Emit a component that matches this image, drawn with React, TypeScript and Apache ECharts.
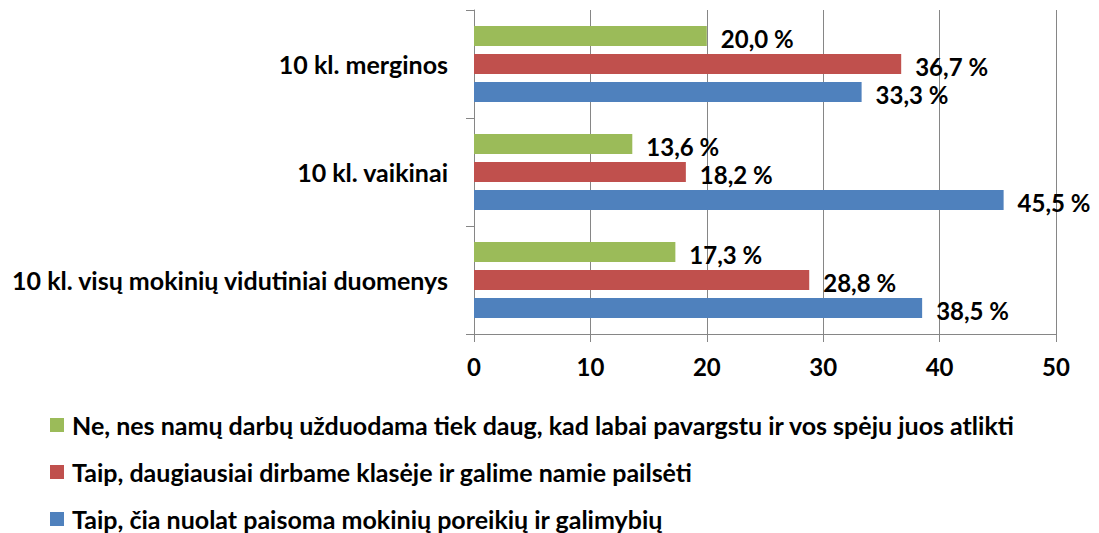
import React, { useEffect, useRef } from "react";
import * as echarts from "echarts";

const categories = [
  "10 kl. visų mokinių vidutiniai duomenys",
  "10 kl. vaikinai",
  "10 kl. merginos",
];
const seriesNames = [
  "Ne, nes namų darbų užduodama tiek daug, kad labai pavargstu ir vos spėju juos atlikti",
  "Taip, daugiausiai dirbame klasėje ir galime namie pailsėti",
  "Taip, čia nuolat paisoma mokinių poreikių ir galimybių",
];
const greenValues = [17.3, 13.6, 20.0];
const redValues = [28.8, 18.2, 36.7];
const blueValues = [38.5, 45.5, 33.3];
const colors = ["#9BBB59", "#C0504D", "#4F81BD"];
const xTicks = { min: 0, max: 50, interval: 10 };

const FONT = "Lato";

export default function App() {
  const ref = useRef<HTMLDivElement>(null);
  useEffect(() => {
    document.body.style.margin = "0";
    const chart = echarts.init(ref.current!, null, { renderer: "svg" });
    const values = [greenValues, redValues, blueValues];
    const labelFmt = (p: any) => Number(p.value).toFixed(1).replace(".", ",") + " %";
    const series = seriesNames.map((name, i) => ({
      name,
      type: "bar",
      data: values[i],
      barWidth: 20,
      barGap: "40%",
      itemStyle: { color: colors[i] },
      label: {
        show: true,
        position: "right",
        distance: 14,
        offset: [0, 2],
        formatter: labelFmt,
        color: "#000",
        fontFamily: FONT,
        fontWeight: "bold",
        fontSize: 24,
      },
    }));
    const legendTops = [411, 458, 505];
    const legends = seriesNames.map((name, i) => ({
      orient: "vertical",
      left: 50,
      top: legendTops[i],
      padding: 0,
      itemWidth: 14,
      itemHeight: 14,
      icon: "rect",
      data: [name],
      textStyle: {
        fontFamily: FONT,
        fontWeight: "bold",
        fontSize: 25,
        color: "#000",
        lineHeight: 28,
        padding: [0, 0, 0, 3],
      },
    }));
    chart.setOption({
      animation: false,
      grid: { left: 474, right: 43, top: 10, bottom: 199, containLabel: false },
      legend: legends,
      xAxis: {
        type: "value",
        min: xTicks.min,
        max: xTicks.max,
        interval: xTicks.interval,
        axisLine: { show: true, lineStyle: { color: "#868686" } },
        axisTick: { show: true, length: 8, lineStyle: { color: "#868686" } },
        splitLine: { show: true, lineStyle: { color: "#868686" } },
        axisLabel: {
          margin: 20,
          color: "#000",
          fontFamily: FONT,
          fontWeight: "bold",
          fontSize: 24,
        },
      },
      yAxis: {
        type: "category",
        data: categories,
        axisLine: { show: true, lineStyle: { color: "#868686" } },
        axisTick: { show: true, length: 8, lineStyle: { color: "#868686" } },
        axisLabel: {
          margin: 26,
          color: "#000",
          fontFamily: FONT,
          fontWeight: "bold",
          fontSize: 25,
        },
      },
      series,
    });
    return () => chart.dispose();
  }, []);
  return <div ref={ref} style={{ width: 1099, height: 533 }} />;
}
